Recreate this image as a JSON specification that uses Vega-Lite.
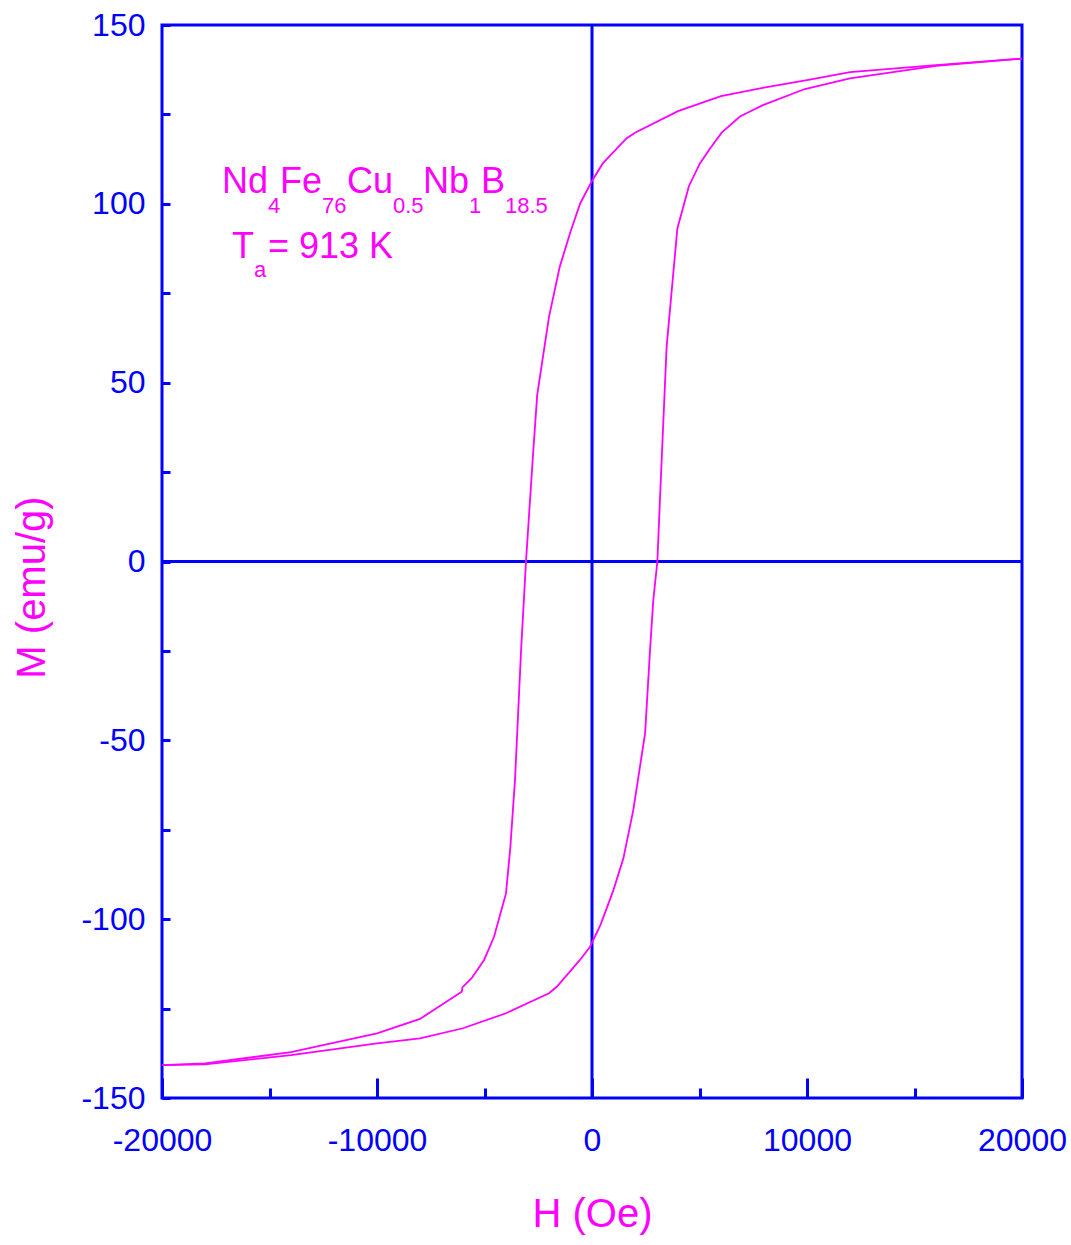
{
  "$schema": "https://vega.github.io/schema/vega-lite/v6.json",
  "width": 860,
  "height": 1073,
  "autosize": "none",
  "padding": {"left": 162, "top": 25, "right": 49, "bottom": 147},
  "background": "white",
  "config": {
    "view": {"stroke": "#0000FF", "strokeWidth": 3},
    "axis": {
      "domain": false,
      "grid": false,
      "labelFlush": false,
      "labelFont": "Liberation Sans",
      "labelFontSize": 32,
      "labelColor": "#0000FF",
      "tickColor": "#0000FF",
      "tickWidth": 3,
      "titleFont": "Liberation Sans",
      "titleFontSize": 40,
      "titleFontWeight": "normal",
      "titleColor": "#FF00FF"
    }
  },
  "datasets": {
    "loop": [
      {"branch": "down", "H": 20000, "M": 140.6},
      {"branch": "down", "H": 16000, "M": 138.8},
      {"branch": "down", "H": 12000, "M": 136.8},
      {"branch": "down", "H": 10000, "M": 134.6},
      {"branch": "down", "H": 8000, "M": 132.5},
      {"branch": "down", "H": 6000, "M": 130.1},
      {"branch": "down", "H": 4000, "M": 125.9},
      {"branch": "down", "H": 2000, "M": 119.9},
      {"branch": "down", "H": 1600, "M": 118.3},
      {"branch": "down", "H": 500, "M": 111.3},
      {"branch": "down", "H": 0, "M": 106.4},
      {"branch": "down", "H": -550, "M": 100.1},
      {"branch": "down", "H": -1000, "M": 92.2},
      {"branch": "down", "H": -1500, "M": 82.4},
      {"branch": "down", "H": -2000, "M": 68.4},
      {"branch": "down", "H": -2550, "M": 46.5},
      {"branch": "down", "H": -2760, "M": 28.4},
      {"branch": "down", "H": -3070, "M": 0},
      {"branch": "down", "H": -3300, "M": -25},
      {"branch": "down", "H": -3580, "M": -61},
      {"branch": "down", "H": -3800, "M": -80},
      {"branch": "down", "H": -4000, "M": -92.8},
      {"branch": "down", "H": -4560, "M": -105},
      {"branch": "down", "H": -5020, "M": -111.4},
      {"branch": "down", "H": -5600, "M": -116.5},
      {"branch": "down", "H": -6030, "M": -119.1},
      {"branch": "down", "H": -6060, "M": -120.3},
      {"branch": "down", "H": -8000, "M": -127.9},
      {"branch": "down", "H": -10000, "M": -131.9},
      {"branch": "down", "H": -14000, "M": -137.2},
      {"branch": "down", "H": -18000, "M": -140.3},
      {"branch": "down", "H": -20000, "M": -140.8},
      {"branch": "up", "H": -20000, "M": -140.8},
      {"branch": "up", "H": -18000, "M": -140.6},
      {"branch": "up", "H": -14000, "M": -138.0},
      {"branch": "up", "H": -10000, "M": -134.7},
      {"branch": "up", "H": -8000, "M": -133.3},
      {"branch": "up", "H": -6000, "M": -130.5},
      {"branch": "up", "H": -4000, "M": -126.3},
      {"branch": "up", "H": -2000, "M": -120.7},
      {"branch": "up", "H": -1640, "M": -118.9},
      {"branch": "up", "H": -560, "M": -111.4},
      {"branch": "up", "H": -90, "M": -107.7},
      {"branch": "up", "H": 400, "M": -101.5},
      {"branch": "up", "H": 1000, "M": -91.8},
      {"branch": "up", "H": 1460, "M": -83},
      {"branch": "up", "H": 1920, "M": -69.5},
      {"branch": "up", "H": 2230, "M": -57.4},
      {"branch": "up", "H": 2470, "M": -48},
      {"branch": "up", "H": 2700, "M": -24.7},
      {"branch": "up", "H": 2850, "M": -10.8},
      {"branch": "up", "H": 3040, "M": 0},
      {"branch": "up", "H": 3160, "M": 17.2},
      {"branch": "up", "H": 3240, "M": 28.4},
      {"branch": "up", "H": 3470, "M": 60},
      {"branch": "up", "H": 3970, "M": 93.1},
      {"branch": "up", "H": 4510, "M": 105},
      {"branch": "up", "H": 5020, "M": 111.3},
      {"branch": "up", "H": 5490, "M": 115.5},
      {"branch": "up", "H": 6030, "M": 119.9},
      {"branch": "up", "H": 6880, "M": 124.4},
      {"branch": "up", "H": 7350, "M": 125.8},
      {"branch": "up", "H": 7950, "M": 127.6},
      {"branch": "up", "H": 9900, "M": 132.1},
      {"branch": "up", "H": 12000, "M": 135.1},
      {"branch": "up", "H": 16000, "M": 138.6},
      {"branch": "up", "H": 20000, "M": 140.6}
    ],
    "mainText": [
      {"H": -17209, "M": 103.0, "t": "Nd"},
      {"H": -14512, "M": 103.0, "t": "Fe"},
      {"H": -11395, "M": 103.0, "t": "Cu"},
      {"H": -7860, "M": 103.0, "t": "Nb"},
      {"H": -5163, "M": 103.0, "t": "B"},
      {"H": -16744, "M": 84.8, "t": "T"},
      {"H": -15070, "M": 84.8, "t": "= 913 K"}
    ],
    "subText": [
      {"H": -15070, "M": 97.4, "t": "4"},
      {"H": -12558, "M": 97.4, "t": "76"},
      {"H": -9256, "M": 97.4, "t": "0.5"},
      {"H": -5721, "M": 97.4, "t": "1"},
      {"H": -4047, "M": 97.4, "t": "18.5"},
      {"H": -15721, "M": 79.5, "t": "a"}
    ]
  },
  "resolve": {"axis": {"x": "independent"}},
  "layer": [
    {
      "data": {"values": [{"z": 0}]},
      "mark": {"type": "rule", "color": "#0000FF", "strokeWidth": 3},
      "encoding": {
        "x": {
          "datum": 0,
          "type": "quantitative",
          "scale": {"domain": [-20000, 20000], "nice": false, "zero": false},
          "axis": {
            "orient": "bottom",
            "values": [-15000, -5000, 5000, 15000],
            "tickSize": -10,
            "labels": false,
            "title": null
          }
        }
      }
    },
    {
      "data": {"values": [{"z": 0}]},
      "mark": {"type": "rule", "color": "#0000FF", "strokeWidth": 3},
      "encoding": {
        "y": {
          "datum": 0,
          "type": "quantitative",
          "scale": {"domain": [-150, 150], "nice": false, "zero": false}
        }
      }
    },
    {
      "data": {"name": "loop"},
      "mark": {"type": "line", "color": "#FF00FF", "strokeWidth": 1.8},
      "encoding": {
        "x": {
          "field": "H",
          "type": "quantitative",
          "scale": {"domain": [-20000, 20000], "nice": false, "zero": false},
          "axis": {
            "orient": "bottom",
            "values": [-20000, -10000, 0, 10000, 20000],
            "labelExpr": "toString(datum.value)",
            "tickSize": -20,
            "labelPadding": 47,
            "title": "H (Oe)",
            "titlePadding": 38
          }
        },
        "y": {
          "field": "M",
          "type": "quantitative",
          "scale": {"domain": [-150, 150], "nice": false, "zero": false},
          "axis": {
            "values": [-150, -125, -100, -75, -50, -25, 0, 25, 50, 75, 100, 125, 150],
            "labelExpr": "datum.value % 50 === 0 ? toString(datum.value) : ''",
            "tickSize": -8,
            "labelPadding": 25,
            "title": "M (emu/g)",
            "titlePadding": 28,
            "titleY": 562
          }
        },
        "detail": {"field": "branch"}
      }
    },
    {
      "data": {"name": "mainText"},
      "mark": {"type": "text", "color": "#FF00FF", "font": "Liberation Sans", "fontSize": 36, "align": "left", "baseline": "alphabetic"},
      "encoding": {
        "x": {"field": "H", "type": "quantitative", "axis": null},
        "y": {"field": "M", "type": "quantitative"},
        "text": {"field": "t"}
      }
    },
    {
      "data": {"name": "subText"},
      "mark": {"type": "text", "color": "#FF00FF", "font": "Liberation Sans", "fontSize": 22, "align": "left", "baseline": "alphabetic"},
      "encoding": {
        "x": {"field": "H", "type": "quantitative", "axis": null},
        "y": {"field": "M", "type": "quantitative"},
        "text": {"field": "t"}
      }
    }
  ]
}
